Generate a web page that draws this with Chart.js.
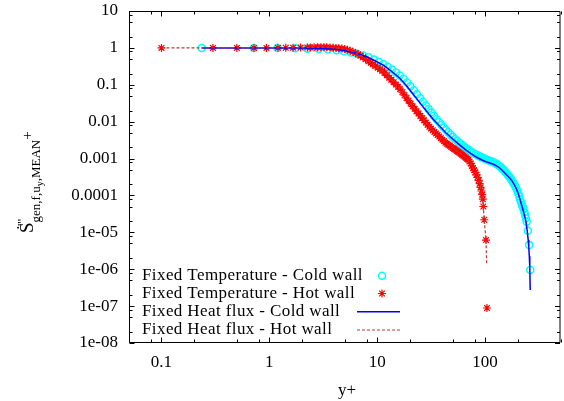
<!DOCTYPE html>
<html><head><meta charset="utf-8">
<script src="https://cdn.jsdelivr.net/npm/chart.js@4.4.0/dist/chart.umd.min.js"></script>
<style>html,body{margin:0;padding:0;background:#fff;overflow:hidden;} #c{display:block}</style>
</head><body>
<canvas id="c" width="566" height="401" style="width:566px;height:401px"></canvas>
<script>
// ---- data ----
const coldTempX = [0.236,0.72,1.19,1.75,2.25,2.87,3.5,4.2,4.9,5.7,6.5,7.4,8.3,9.3,10.3,11.4,12.5,13.7,14.9,16.2,17.5,18.9,20.3,21.8,23.3,24.9,26.5,28.2,29.9,31.7,33.5,35.4,37.3,39.3,41.3,43.4,45.5,47.7,50.0,52.5,55,57.5,60,63,66,69,72,75,78,81.5,85,88.5,92,95.5,99,103,107,111,115,119,123,127,131,135,139,143,147,151,155,159,163,167,171,175,179,183,187,191,195,199,203,207,211,215,219,223,227,231,235,239,243,249,256,262];
const coldTempY = [1,1,0.993,0.977,0.955,0.933,0.902,0.861,0.813,0.75,0.692,0.624,0.556,0.484,0.422,0.363,0.309,0.26,0.216,0.178,0.145,0.115,0.0912,0.0708,0.0556,0.0437,0.0347,0.0275,0.0219,0.0178,0.0145,0.0117,0.00977,0.00822,0.0070,0.00596,0.00513,0.00447,0.00389,0.00339,0.00302,0.00269,0.00243,0.00216,0.00195,0.00178,0.00162,0.0015,0.0014,0.0013,0.00122,0.00115,0.00108,0.00104,9.89e-4,9.44e-4,9.02e-4,8.61e-4,8.32e-4,7.94e-4,7.59e-4,7.16e-4,6.76e-4,6.31e-4,5.89e-4,5.5e-4,5.07e-4,4.68e-4,4.27e-4,3.89e-4,3.55e-4,3.24e-4,2.95e-4,2.69e-4,2.43e-4,2.19e-4,1.95e-4,1.74e-4,1.51e-4,1.32e-4,1.12e-4,9.55e-5,7.94e-5,6.61e-5,5.62e-5,4.9e-5,4.27e-5,3.55e-5,2.95e-5,2.4e-5,1.95e-5,1.1e-5,4.57e-6,9.55e-7];

const hotTempX = [0.1,0.3,0.5,0.72,0.94,1.2,1.42,1.66,1.95,2.25,2.4,2.6,2.8,3.0,3.2,3.4,3.65,3.9,4.15,4.4,4.7,5.0,5.3,5.6,5.95,6.3,6.65,7.0,7.4,7.8,8.3,8.7,9.1,9.6,10.1,10.6,11.1,11.7,12.3,12.9,13.5,14.2,14.9,15.6,16.3,17.1,17.9,18.7,19.5,20.4,21.3,22.2,23.1,24.1,25.1,26.1,27.1,28.2,29.3,30.4,31.5,32.7,33.9,35.1,36.3,37.6,38.9,40.2,41.5,42.9,44.3,45.7,47.1,48.6,50.1,51.6,53.1,54.7,56.3,57.9,59.5,61.2,62.9,64.6,66.3,68.1,69.9,71.7,73.5,75.4,77.3,79.2,81.1,83.1,85.1,87.1,89.0,90.8,92.5,94.0,95.2,96.2,98.1,101.9,104];
const hotTempY = [1,1,1,1,1,1.005,1.01,1.014,1.02,1.028,1.031,1.035,1.038,1.04,1.039,1.037,1.03,1.01,1.0,0.985,0.96,0.93,0.885,0.839,0.78,0.724,0.67,0.617,0.555,0.49,0.434,0.394,0.359,0.322,0.29,0.263,0.239,0.21,0.18,0.156,0.136,0.1175,0.1014,0.0883,0.0759,0.0627,0.0521,0.0438,0.0371,0.0309,0.026,0.0223,0.0193,0.0166,0.0143,0.01245,0.01087,0.00944,0.0082,0.00724,0.0065,0.00585,0.00527,0.00479,0.00435,0.00394,0.00357,0.00325,0.00297,0.0027,0.00251,0.00235,0.00221,0.00207,0.00194,0.00182,0.00172,0.00161,0.00152,0.00143,0.00135,0.00127,0.00119,0.00112,0.00105,9.86e-4,9.25e-4,8.32e-4,7.41e-4,6.31e-4,5.5e-4,4.79e-4,4.22e-4,3.63e-4,3.09e-4,2.57e-4,2.09e-4,1.66e-4,1.32e-4,1.05e-4,7.94e-5,5.01e-5,2.19e-5,6.17e-6,8.9e-8];

const coldFluxX = [0.236,0.5,1.0,1.5,2.0,3.0,4.0,4.8,5.6,6.8,8.0,9.5,11.4,13.5,16.0,18.0,19.8,22.0,24.6,27.3,30.2,33.0,36.0,39.5,43.2,47.5,52.0,56.5,61.5,67.0,73.5,80.0,86.9,93.5,100.7,108,116,124,133,143,152,160,168,177,185,193,202,210,218,226,232,238,243,247,251,254,257,259.5,262];
const coldFluxY = [1,1,1,0.995,0.989,0.973,0.923,0.861,0.785,0.676,0.575,0.452,0.339,0.234,0.155,0.107,0.0759,0.0513,0.0339,0.0229,0.0158,0.0117,0.00891,0.00661,0.00501,0.00389,0.00309,0.00251,0.00204,0.00166,0.00138,0.00117,0.00102,9.12e-4,8.32e-4,7.76e-4,7.24e-4,6.61e-4,5.89e-4,4.9e-4,4.07e-4,3.47e-4,3.02e-4,2.51e-4,2.04e-4,1.62e-4,1.17e-4,8.13e-5,5.5e-5,3.8e-5,2.82e-5,2.14e-5,1.41e-5,9.55e-6,6.17e-6,3.98e-6,2.24e-6,1.12e-6,2.75e-7];

const hotFluxX = [0.1,0.3,0.72,1.2,1.95,3.0,3.9,4.4,5.0,5.6,6.3,7.0,7.8,8.7,9.6,10.6,11.7,12.9,14.2,15.6,17.1,18.7,20.4,22.2,24.1,26.1,28.2,30.4,32.7,35.1,37.6,40.2,42.9,45.7,48.6,51.6,54.7,57.9,61.2,64.6,68.1,71.7,75.4,79.2,83.1,87.1,90.8,94.0,96.2,98.1,101.9,103.5];
const hotFluxY = [1,1,1,1.005,1.02,1.04,1.01,0.985,0.93,0.839,0.724,0.617,0.49,0.394,0.322,0.263,0.21,0.156,0.1175,0.0883,0.0627,0.0438,0.0309,0.0223,0.0166,0.01245,0.00944,0.00724,0.00585,0.00479,0.00394,0.00325,0.0027,0.00235,0.00207,0.00182,0.00161,0.00143,0.00127,0.00112,9.86e-4,8.32e-4,6.31e-4,4.79e-4,3.63e-4,2.57e-4,1.66e-4,1.05e-4,5.01e-5,2.19e-5,6.17e-6,1.3e-6];

const seriesLabels = ['Fixed Temperature - Cold wall','Fixed Temperature - Hot wall','Fixed Heat flux - Cold wall','Fixed Heat flux - Hot wall'];
const xTickValues = [0.1,1,10,100];
const xTickLabels = ['0.1','1','10','100'];
const yTickValues = [1e-8,1e-7,1e-6,1e-5,1e-4,1e-3,1e-2,1e-1,1,10];
const yTickLabels = ['1e-08','1e-07','1e-06','1e-05','0.0001','0.001','0.01','0.1','1','10'];
const minorMultipliers = [2,5,8];

// ---- styles ----
const FONT = '"Liberation Serif", "Times New Roman", serif';
const CYAN = '#00ffff', RED = '#ff0000', BLUE = '#0000ff', DRED = '#c03838';

const pts = (xs, ys) => xs.map((x, i) => ({x: x, y: ys[i]}));

const framePlugin = {
  id: 'frame',
  afterDatasetsDraw(chart) {
    const ctx = chart.ctx, a = chart.chartArea, xs = chart.scales.x, ys = chart.scales.y;
    ctx.save();
    ctx.strokeStyle = '#000'; ctx.lineWidth = 1;
    const L = a.left + 0.5, R = a.right - 0.5, T = a.top + 0.5, B = a.bottom - 0.5;
    ctx.beginPath();
    ctx.moveTo(L, T); ctx.lineTo(R, T); ctx.lineTo(R, B); ctx.lineTo(L, B); ctx.closePath();
    for (let e = -2; e <= 3; e++) {
      for (const m of [1].concat(minorMultipliers)) {
        const v = m * Math.pow(10, e);
        if (v < xs.min * 0.999 || v > xs.max * 1.001) continue;
        const p = Math.round(xs.getPixelForValue(v)) + 0.5;
        const len = m === 1 ? 5 : 3;
        ctx.moveTo(p, B); ctx.lineTo(p, B - len);
        ctx.moveTo(p, T); ctx.lineTo(p, T + len);
      }
    }
    for (let e = -9; e <= 1; e++) {
      for (const m of [1].concat(minorMultipliers)) {
        const v = m * Math.pow(10, e);
        if (v < ys.min * 0.999 || v > ys.max * 1.001) continue;
        const p = Math.round(ys.getPixelForValue(v)) + 0.5;
        const len = m === 1 ? 5 : 3;
        ctx.moveTo(L, p); ctx.lineTo(L + len, p);
        ctx.moveTo(R, p); ctx.lineTo(R - len, p);
      }
    }
    ctx.stroke();
    ctx.restore();
  },
  afterDraw(chart) {
    const ctx = chart.ctx;
    ctx.save();
    ctx.fillStyle = '#000';
    const rows = [275.7, 293.5, 311.7, 330];
    ctx.font = '17px ' + FONT;
    ctx.letterSpacing = '0.4px';
    ctx.textAlign = 'left'; ctx.textBaseline = 'middle';
    seriesLabels.forEach((t, i) => ctx.fillText(t, 142, rows[i]));
    ctx.letterSpacing = '0px';
    ctx.strokeStyle = CYAN; ctx.lineWidth = 1.5;
    ctx.beginPath(); ctx.arc(382, rows[0], 3.5, 0, Math.PI * 2); ctx.stroke();
    ctx.strokeStyle = RED; ctx.lineWidth = 1.2;
    const r = 4, sx = 382, sy = rows[1], d = r * Math.SQRT1_2;
    ctx.beginPath();
    ctx.moveTo(sx - r, sy); ctx.lineTo(sx + r, sy);
    ctx.moveTo(sx, sy - r); ctx.lineTo(sx, sy + r);
    ctx.moveTo(sx - d, sy - d); ctx.lineTo(sx + d, sy + d);
    ctx.moveTo(sx - d, sy + d); ctx.lineTo(sx + d, sy - d);
    ctx.stroke();
    ctx.strokeStyle = BLUE; ctx.lineWidth = 1.5;
    ctx.beginPath(); ctx.moveTo(357, rows[2]); ctx.lineTo(400, rows[2]); ctx.stroke();
    ctx.strokeStyle = DRED; ctx.lineWidth = 1.2; ctx.setLineDash([3, 2]);
    ctx.beginPath(); ctx.moveTo(357, rows[3]); ctx.lineTo(400, rows[3]); ctx.stroke();
    ctx.setLineDash([]);
    ctx.font = '17px ' + FONT; ctx.textAlign = 'center'; ctx.textBaseline = 'alphabetic';
    ctx.fillText('y+', 347, 395);
    // rotated y title with sub/superscripts
    ctx.translate(33, 233);
    ctx.rotate(-Math.PI / 2);
    ctx.textAlign = 'left';
    let cx = 0;
    ctx.font = '19px ' + FONT;
    ctx.fillText('\u1E60', 0, 0);
    cx += ctx.measureText('S').width;
    ctx.font = '13px ' + FONT;
    ctx.fillText("'''", 7, -7);
    ctx.fillText('gen,f,u', cx, 7);
    cx += ctx.measureText('gen,f,u').width;
    ctx.font = '10px ' + FONT;
    ctx.fillText('y', cx, 10);
    cx += ctx.measureText('y').width;
    ctx.font = '13px ' + FONT;
    ctx.fillText(',MEAN', cx, 7);
    cx += ctx.measureText(',MEAN').width;
    ctx.font = '15px ' + FONT;
    ctx.fillText('+', cx, -1);
    ctx.restore();
  }
};

new Chart(document.getElementById('c'), {
  type: 'scatter',
  data: {
    datasets: [
      {label: seriesLabels[0], data: pts(coldTempX, coldTempY), showLine: false, pointStyle: 'circle', pointRadius: 3.5, pointBorderWidth: 1.5, pointBorderColor: CYAN, pointBackgroundColor: 'rgba(0,0,0,0)', order: 4},
      {label: seriesLabels[1], data: pts(hotTempX, hotTempY), showLine: false, pointStyle: 'star', pointRadius: 4, pointBorderWidth: 1.2, pointBorderColor: RED, pointBackgroundColor: RED, order: 3},
      {label: seriesLabels[2], data: pts(coldFluxX, coldFluxY), showLine: true, pointRadius: 0, borderColor: BLUE, borderWidth: 1.5, tension: 0, order: 2},
      {label: seriesLabels[3], data: pts(hotFluxX, hotFluxY), showLine: true, pointRadius: 0, borderColor: DRED, borderWidth: 1.2, borderDash: [3, 2], tension: 0, order: 1}
    ]
  },
  options: {
    responsive: false,
    devicePixelRatio: 1,
    animation: false,
    layout: {padding: {left: 0, right: 1, top: 11, bottom: 0}},
    plugins: {legend: {display: false}, tooltip: {enabled: false}},
    scales: {
      x: {
        type: 'logarithmic', position: 'bottom', min: 0.05, max: 500,
        grid: {display: false, drawTicks: false}, border: {display: false},
        ticks: {font: {family: FONT, size: 17}, color: '#000', padding: 9, autoSkip: false, maxRotation: 0,
          callback: (v, i) => xTickLabels[i]},
        afterBuildTicks: s => { s.ticks = xTickValues.map(v => ({value: v})); },
        afterFit: s => { s.height = 58; s.paddingLeft = 0; s.paddingRight = 0; s.paddingTop = 0; s.paddingBottom = 0; }
      },
      y: {
        type: 'logarithmic', position: 'left', min: 1e-8, max: 10,
        grid: {display: false, drawTicks: false}, border: {display: false},
        ticks: {font: {family: FONT, size: 17}, color: '#000', padding: 11, autoSkip: false,
          callback: (v, i) => yTickLabels[i]},
        afterBuildTicks: s => { s.ticks = yTickValues.map(v => ({value: v})); },
        afterFit: s => { s.width = 129; s.paddingLeft = 0; s.paddingRight = 0; s.paddingTop = 0; s.paddingBottom = 0; }
      }
    }
  },
  plugins: [framePlugin]
});
</script>
</body></html>
